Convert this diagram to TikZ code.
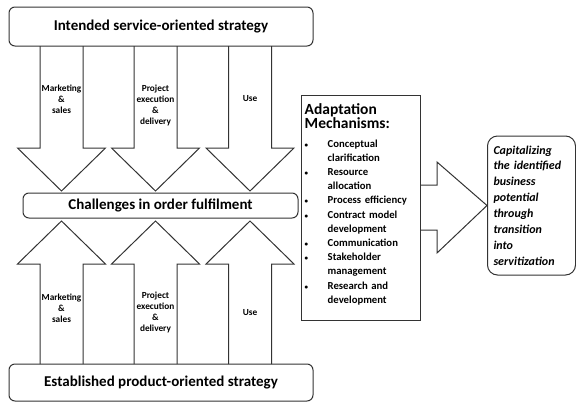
\documentclass[tikz,border=0pt]{standalone}
\usepackage{fontspec}
\setmainfont{Carlito}
\usetikzlibrary{positioning}
\newenvironment{mechlist}{%
	\begin{list}{{\fontsize{7}{7}\selectfont\textbullet}}{\setlength{\leftmargin}{23pt}\setlength{\labelsep}{0pt}%
		\setlength{\labelwidth}{23pt}\setlength{\itemsep}{0pt}\setlength{\parsep}{0pt}%
		\setlength{\topsep}{4pt}\setlength{\partopsep}{0pt}%
		\renewcommand{\makelabel}[1]{##1\hfil}}}%
	{\end{list}}
\tikzset{
	stratbox/.style={rectangle, rounded corners=6pt, draw=black!80, line width=1pt, minimum width=304pt, minimum height=39pt, font=\fontsize{15}{18}\selectfont\bfseries},
	midbox/.style  ={stratbox, minimum width=275pt, minimum height=25pt},
	mechbox/.style ={rectangle, draw=black!80, line width=1pt, minimum width=119pt, minimum height=225pt},
	mechtext/.style={inner sep=4pt, text width=111pt, align=left, font=\fontsize{10.7}{14.2}\selectfont\bfseries},
	goalbox/.style ={rectangle, rounded corners=10pt, draw=black!80, line width=1pt, minimum width=88pt, minimum height=139pt, text width=76pt, align=left, font=\fontsize{12}{15.9}\selectfont\bfseries\itshape},
	blockarrow/.style={draw=black!80, line width=1pt, line join=miter},
	arrlbl/.style  ={align=center, inner sep=0pt, font=\fontsize{9.3}{11}\selectfont\bfseries},
}
\begin{document}
\begin{tikzpicture}[x=1pt, y=-1pt]
	\useasboundingbox (0,0) rectangle (576,402);
	% strategy levels
	\node[stratbox] (intended) at (161,26.5) {Intended service-oriented strategy};
	\node[midbox] (challenges) at (160.5,205.5) {Challenges in order fulfilment};
	\node[stratbox, minimum height=37pt] (established) at (161,382.5) {Established product-oriented strategy};
	% block arrows down and up
	\foreach \cx in {61.5,155.5,250}{
		\draw[blockarrow] (\cx-21.5,46) -- (\cx-21.5,148) -- (\cx-44,148) -- (\cx,191) -- (\cx+44,148) -- (\cx+21.5,148) -- (\cx+21.5,46);
		\draw[blockarrow] (\cx-21.5,364) -- (\cx-21.5,264) -- (\cx-44,264) -- (\cx,221) -- (\cx+44,264) -- (\cx+21.5,264) -- (\cx+21.5,364);
	}
	\foreach \cx/\ty/\txt [count=\i] in {61.5/99/{Marketing\\\&\\sales}, 155.5/105/{Project\\execution\\\&\\delivery}, 250/99/{Use}}
		\node[arrlbl] (down\i) at (\cx,\ty) {\txt};
	\foreach \cx/\ty/\txt [count=\i] in {61.5/308/{Marketing\\\&\\sales}, 155.5/312/{Project\\execution\\\&\\delivery}, 250/313/{Use}}
		\node[arrlbl] (up\i) at (\cx,\ty) {\txt};
	% adaptation mechanisms
	\node[mechbox] (mech) at (360.5,207.5) {};
	\node[mechtext, anchor=north west] (mechitems) at ([yshift=-5pt]mech.north west) {%
		{\fontsize{15.5}{16.5}\selectfont Adaptation\\Mechanisms:}\par
		\begin{mechlist}\raggedright
			\item Conceptual\newline clarification
			\item Resource\newline allocation
			\item Process efficiency
			\item Contract model\newline development
			\item Communication
			\item Stakeholder\newline management
			\item Research and\newline development
		\end{mechlist}};
	\node[goalbox] (goal) at (531.5,205.5) {Capitalizing\\the identified\\business\\potential\\through\\transition\\into\\servitization};
	\draw[blockarrow] (mech.east |- 0,185) -- (437,185) -- (437,162) -- (goal.west) -- (437,253) -- (437,230) -- (mech.east |- 0,230);
\end{tikzpicture}
\end{document}
